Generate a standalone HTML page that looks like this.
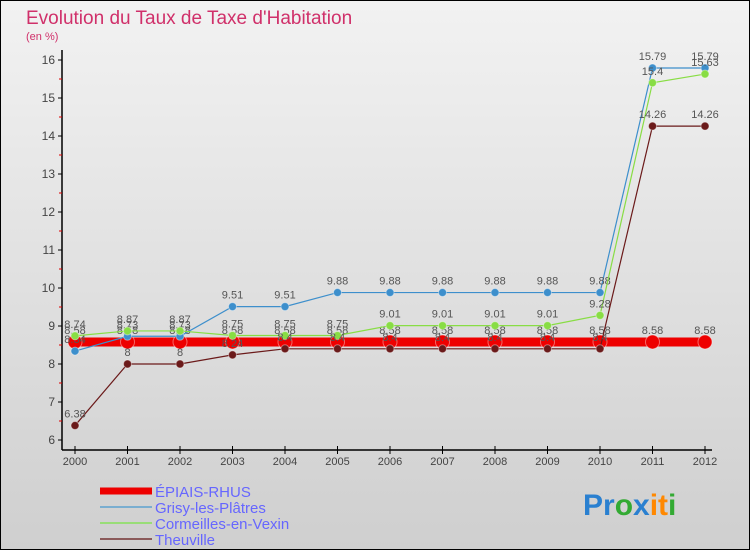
<!DOCTYPE html>
<html><head><meta charset="utf-8"><style>
body{margin:0;width:750px;height:550px;overflow:hidden;font-family:"Liberation Sans",sans-serif}
#c{position:absolute;left:0;top:0;width:748px;height:548px;border:1px solid #000;background:linear-gradient(#f2f2f2,#cfcfcf)}
</style></head><body>
<div id="c">
<svg id="s" width="750" height="550" style="position:absolute;left:-1px;top:-1px">
<text x="26" y="24" font-size="19" fill="#d0306a">Evolution du Taux de Taxe d'Habitation</text>
<text x="26" y="40" font-size="11" fill="#d0306a">(en %)</text>
</svg>
</div>
<script>
const years=["2000","2001","2002","2003","2004","2005","2006","2007","2008","2009","2010","2011","2012"];
const yTicks=[6,7,8,9,10,11,12,13,14,15,16];
const epiais=[8.58,8.58,8.58,8.58,8.58,8.58,8.58,8.58,8.58,8.58,8.58,8.58,8.58];
const grisy=[8.34,8.73,8.73,9.51,9.51,9.88,9.88,9.88,9.88,9.88,9.88,15.79,15.79];
const cormeilles=[8.74,8.87,8.87,8.75,8.75,8.75,9.01,9.01,9.01,9.01,9.28,15.4,15.63];
const theuville=[6.38,8,8,8.24,8.4,8.4,8.4,8.4,8.4,8.4,8.4,14.26,14.26];
const NS="http://www.w3.org/2000/svg",s=document.getElementById('s');
const X=i=>75+i*52.5, Y=v=>440-(v-6)*38;
function el(t,a,p){const e=document.createElementNS(NS,t);for(const k in a)e.setAttribute(k,a[k]);(p||s).appendChild(e);return e;}
let e;
e=el('line',{x1:62,y1:50,x2:62,y2:450,stroke:'#000','stroke-width':1.5});


e=el('line',{x1:62,y1:450,x2:712,y2:450,stroke:'#000','stroke-width':1.5});


yTicks.forEach(v=>{
 el('line',{x1:58,y1:Y(v),x2:62,y2:Y(v),stroke:'#000'});
 if(v<16)el('line',{x1:59,y1:Y(v+0.5),x2:62,y2:Y(v+0.5),stroke:'#d00'});
 e=el('text',{x:55,y:Y(v)+4,'font-size':12,'text-anchor':'end',fill:'#444'});e.textContent=v;
 
 
});
years.forEach((y,i)=>{
 el('line',{x1:X(i),y1:446,x2:X(i),y2:454,stroke:'#000'});
 e=el('text',{x:X(i),y:465,'font-size':11,'text-anchor':'middle',fill:'#444'});e.textContent=y;
 
 
});
function series(d,col,w,r,name){
 e=el('polyline',{points:d.map((v,i)=>X(i)+','+Y(v)).join(' '),fill:'none',stroke:col,'stroke-width':w});
 
 
 d.forEach((v,i)=>{
  e=el('circle',{cx:X(i),cy:Y(v),r:r,fill:col,stroke:'#fff','stroke-opacity':0.4});
  
  
  e=el('text',{x:X(i),y:Y(v)-8,'font-size':11,'text-anchor':'middle',fill:'#555'});e.textContent=v;
  
  
 });
}
series(epiais,'#ee0000',9,7,'epiais-rhus');
series(grisy,'#3d8fcc',1.2,4,'grisy-les-platres');
series(cormeilles,'#88dd44',1.2,4,'cormeilles-en-vexin');
series(theuville,'#6b1a1a',1.2,4,'theuville');
const leg=[['ÉPIAIS-RHUS','#ee0000',7],['Grisy-les-Plâtres','#7aaed0',2],['Cormeilles-en-Vexin','#99dd77',2],['Theuville','#8b5a5a',2]];
leg.forEach((l,i)=>{
 const y=491+i*16;
 e=el('line',{x1:100,y1:y,x2:152,y2:y,stroke:l[1],'stroke-width':l[2]});
 
 
 e=el('text',{x:155,y:y+6,'font-size':15,fill:'#6666ff'});e.textContent=l[0];
 
 
});
e=el('text',{x:583,y:515,'font-size':30,'font-weight':'bold'});


[['Pr','#2a80d0'],['o','#33aa33'],['x','#2a80d0'],['i','#ff8800'],['t','#ff8800'],['i','#33aa33']].forEach(p=>{const t=el('tspan',{fill:p[1]},e);t.textContent=p[0];});
</script>
</body></html>
